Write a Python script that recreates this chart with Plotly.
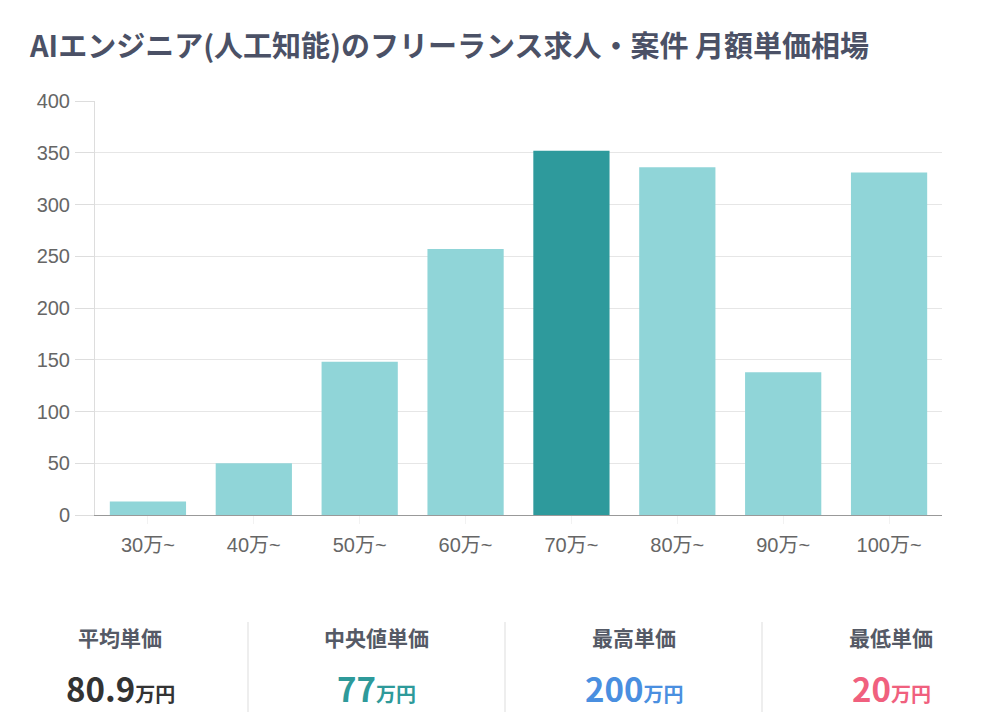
import plotly.graph_objects as go

categories = ["30万~", "40万~", "50万~", "60万~", "70万~", "80万~", "90万~", "100万~"]
counts = [13, 50, 148, 257, 352, 336, 138, 331]
highlight_index = 4

stat_labels = ["平均単価", "中央値単価", "最高単価", "最低単価"]
stat_values = ["80.9", "77", "200", "20"]
stat_unit = "万円"
stat_colors = ["#333333", "#2e9a9a", "#4a8fe0", "#f0607e"]

title_text = "AIエンジニア(人工知能)のフリーランス求人・案件 月額単価相場"

# page body has an 8px margin; work in screenshot pixels and shift
OFF = 8
W, H = 1008, 728
L, T = 95 - OFF, 101 - OFF
R = W - (942 - OFF)
B = H - (515 - OFF)
pw, ph = W - L - R, H - T - B

def px_x(x):
    return (x - OFF - L) / pw

def px_y(y):
    return (H - B - (y - OFF)) / ph

FONT = "Noto Sans CJK JP, sans-serif"
NUMFONT = "Liberation Sans, Noto Sans CJK JP, sans-serif"

bar_colors = ["#2e9a9c" if i == highlight_index else "#90d5d8" for i in range(len(categories))]

fig = go.Figure(go.Bar(x=categories, y=counts, marker=dict(color=bar_colors, line=dict(width=0)),
                       hoverinfo="x+y"))

fig.update_layout(
    width=W, height=H,
    margin=dict(l=L, r=R, t=T, b=B),
    paper_bgcolor="white", plot_bgcolor="white",
    bargap=0.28,
    showlegend=False,
    font=dict(family=FONT, color="#666666"),
    title=dict(text="<b>" + title_text + "</b>", x=(30 - OFF) / W, xanchor="left",
               y=1 - (47 - OFF) / H, yanchor="middle",
               font=dict(size=29, color="#4b5166", family=FONT)),
)
fig.update_xaxes(showgrid=False, showline=True, linecolor="#999999", linewidth=1,
                 ticks="outside", ticklen=8, tickcolor="rgba(0,0,0,0.05)",
                 tickfont=dict(size=20, color="#666666", family=NUMFONT), ticklabelstandoff=4)
fig.update_yaxes(range=[0, 400], dtick=50, showgrid=True, gridcolor="#e6e6e6", gridwidth=1,
                 showline=True, linecolor="#dddddd", linewidth=1, zeroline=False,
                 ticks="outside", ticklen=19, tickcolor="#dddddd", ticklabelstandoff=1,
                 tickfont=dict(size=20, color="#666666", family=NUMFONT))

centers = [120, 376, 634, 891]
for i in range(len(stat_labels)):
    fig.add_annotation(xref="paper", yref="paper", x=px_x(centers[i]), y=px_y(637),
                       text="<b>" + stat_labels[i] + "</b>", showarrow=False,
                       font=dict(size=21, color="#555a66", family=FONT), xanchor="center", yanchor="middle")
    fig.add_annotation(xref="paper", yref="paper", x=px_x(centers[i]), y=px_y(688),
                       text="<b>" + stat_values[i] + "<span style='font-size:20px'>" + stat_unit + "</span></b>",
                       showarrow=False,
                       font=dict(size=33, color=stat_colors[i], family=FONT), xanchor="center", yanchor="middle")

for xd in [248, 505, 762]:
    fig.add_shape(type="line", xref="paper", yref="paper", x0=px_x(xd), x1=px_x(xd),
                  y0=px_y(622), y1=px_y(712), line=dict(color="#dddddd", width=1))

fig.write_html("out.html")
